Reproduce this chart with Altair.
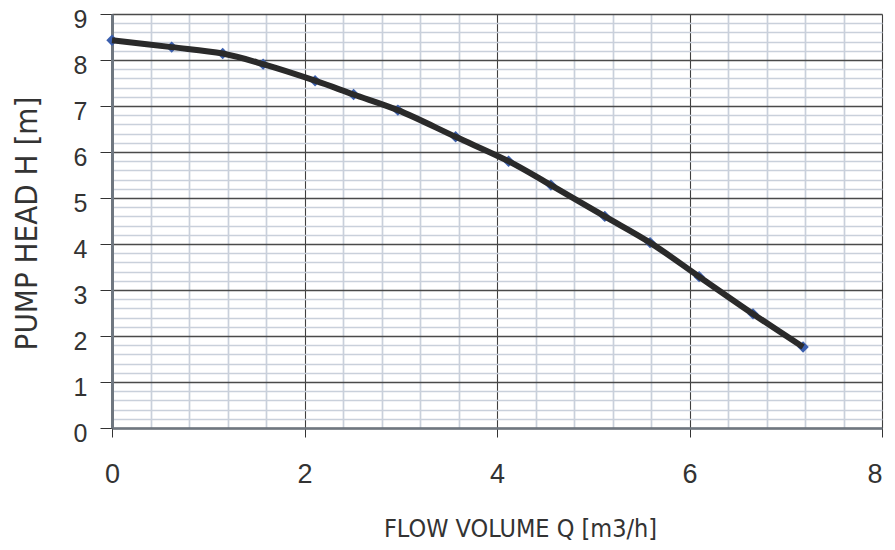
import altair as alt
import pandas as pd

flow = [0.00, 0.62, 1.15, 1.57, 2.11, 2.51, 2.97, 3.57, 4.12, 4.56, 5.12, 5.59, 6.10, 6.66, 7.18]
head = [8.43, 8.28, 8.14, 7.91, 7.55, 7.25, 6.91, 6.33, 5.80, 5.28, 4.60, 4.03, 3.29, 2.48, 1.76]

x_grid = [round(i * 0.4, 1) for i in range(21)]
y_grid = [round(i * 0.2, 1) for i in range(46)]

df = pd.DataFrame({"Q": flow, "H": head})

major_x = "abs(datum.value/2 - round(datum.value/2)) < 0.001"
major_y = "abs(datum.value - round(datum.value)) < 0.001"

title_font = "DejaVu Sans Condensed, Liberation Sans"

x_enc = alt.X(
    "Q:Q",
    scale=alt.Scale(domain=[0, 8], nice=False, zero=False),
    axis=alt.Axis(
        values=x_grid,
        tickCount=200,
        title="FLOW VOLUME Q [m3/h]",
        labelExpr=f"{major_x} ? format(datum.value, 'd') : ''",
        labelFlush=False,
        labelOverlap=False,
        labelAlign={"condition": {"test": "datum.value > 7.9", "value": "right"}, "value": "center"},
        labelFont="Liberation Sans",
        labelFontSize=27,
        labelColor="#333333",
        labelPadding=24,
        titleFont=title_font,
        titleFontSize=25,
        titleFontWeight="normal",
        titleColor="#333333",
        titleX=408,
        titleY=108,
        titleBaseline="alphabetic",
        titleAlign="center",
        tickColor="#333333",
        tickSize=9,
        tickWidth=1,
        tickOpacity={"condition": {"test": major_x, "value": 1}, "value": 0},
        grid=True,
        gridColor={"condition": {"test": major_x, "value": "#404040"}, "value": "#c9d0db"},
        gridWidth={"condition": {"test": major_x, "value": 1.1}, "value": 1.7},
        domainColor="#6f7780",
        domainWidth=2.5,
    ),
)

y_enc = alt.Y(
    "H:Q",
    scale=alt.Scale(domain=[0, 9], nice=False, zero=False),
    axis=alt.Axis(
        values=y_grid,
        tickCount=200,
        title="PUMP HEAD H [m]",
        labelExpr=f"{major_y} ? format(datum.value, 'd') : ''",
        labelFlush=False,
        labelOverlap=False,
        labelFont="Liberation Sans",
        labelFontSize=25,
        labelColor="#333333",
        labelPadding=13,
        labelOffset=5,
        titleFont=title_font,
        titleFontSize=31,
        titleFontWeight="normal",
        titleColor="#333333",
        titleX=-76,
        titleY=209,
        titleBaseline="alphabetic",
        titleAlign="center",
        tickColor="#333333",
        tickSize=12,
        tickWidth=1,
        tickOpacity={"condition": {"test": major_y, "value": 1}, "value": 0},
        grid=True,
        gridColor={"condition": {"test": major_y, "value": "#4a4a4a"}, "value": "#c9d0db"},
        gridWidth={"condition": {"test": major_y, "value": 1.4}, "value": 1.7},
        domainColor="#6f7780",
        domainWidth=3,
    ),
)

base = alt.Chart(df)

points = base.mark_point(shape="diamond", filled=True, color="#3b5fae", size=130, opacity=1).encode(
    x=x_enc, y=y_enc
)
line = base.mark_line(color="#2a2a2a", strokeWidth=6, interpolate="catmull-rom").encode(
    x="Q:Q", y="H:Q"
)

chart = (
    alt.layer(points, line)
    .properties(
        width=770,
        height=414,
        autosize=alt.AutoSizeParams(type="none"),
        padding={"left": 104, "top": 6, "right": 5, "bottom": 114},
    )
    .configure_view(stroke="#a3abb4", strokeWidth=3)
    .configure(background="white")
)

chart.save("out.html", embed_options={"renderer": "svg", "actions": False})
